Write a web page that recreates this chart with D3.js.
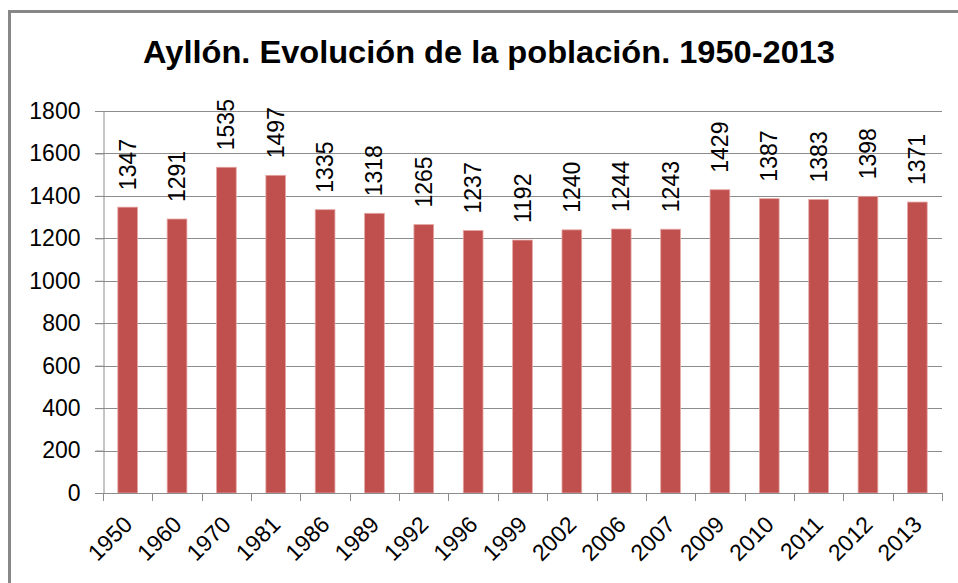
<!DOCTYPE html>
<html>
<head>
<meta charset="utf-8">
<script src="https://cdn.jsdelivr.net/npm/d3@7"></script>
<style>
  body { margin: 0; background: #fff; }
  text { font-family: "Liberation Sans", Arial, sans-serif; fill: #000; }
</style>
</head>
<body>
<script>
const w = 958
const h = 583

const years = ['1950', '1960', '1970', '1981', '1986', '1989', '1992', '1996', '1999',
    '2002', '2006', '2007', '2009', '2010', '2011', '2012', '2013']
const population = [1347, 1291, 1535, 1497, 1335, 1318, 1265, 1237, 1192,
    1240, 1244, 1243, 1429, 1387, 1383, 1398, 1371]
const yTicks = [0, 200, 400, 600, 800, 1000, 1200, 1400, 1600, 1800]
const title = 'Ayllón. Evolución de la población. 1950-2013'

const plot = { left: 103, right: 942, top: 111, bottom: 493 }

const svg = d3.select('body').append('svg')
    .attr('width', w)
    .attr('height', h)

// outer chart border (runs off the right and bottom of the picture)
svg.append('rect')
    .attr('x', 9.5).attr('y', 11.5)
    .attr('width', w + 20).attr('height', h + 20)
    .attr('fill', 'none')
    .attr('stroke', '#878787')
    .attr('stroke-width', 3)

svg.append('text')
    .attr('x', 489).attr('y', 63)
    .attr('text-anchor', 'middle')
    .attr('font-size', 31)
    .attr('font-weight', 'bold')
    .attr('textLength', 692)
    .attr('lengthAdjust', 'spacingAndGlyphs')
    .text(title)

const xScale = d3.scaleBand()
    .domain(years)
    .range([plot.left, plot.right])
    .paddingInner(0.6)
    .paddingOuter(0.3)

const yScale = d3.scaleLinear()
    .domain([0, 1800])
    .range([plot.bottom, plot.top])

// gridlines
svg.append('g')
    .selectAll('line')
    .data(yTicks)
    .enter()
    .append('line')
    .attr('x1', plot.left - 8)
    .attr('x2', plot.right)
    .attr('y1', d => Math.round(yScale(d)) + 0.5)
    .attr('y2', d => Math.round(yScale(d)) + 0.5)
    .attr('stroke', '#8c8c8c')
    .attr('stroke-width', 1)

// y axis
const yAxis = svg.append('g')
    .attr('transform', `translate(${plot.left + 0.5},0)`)
    .call(d3.axisLeft(yScale).tickValues(yTicks).tickFormat(d3.format('d'))
        .tickSize(8).tickPadding(15))
yAxis.select('.domain').attr('stroke', '#8c8c8c')
yAxis.selectAll('.tick line').attr('stroke', '#8c8c8c')
yAxis.selectAll('.tick text').attr('font-size', 23).attr('fill', '#000')
    .attr('font-family', '"Liberation Sans", Arial, sans-serif')

// bars
svg.append('g')
    .selectAll('rect')
    .data(population)
    .enter()
    .append('rect')
    .attr('x', (d, i) => xScale(years[i]))
    .attr('y', d => yScale(d))
    .attr('width', xScale.bandwidth())
    .attr('height', d => yScale(0) - yScale(d))
    .attr('fill', '#c0504d')
    .attr('stroke', '#e6a8a6')
    .attr('stroke-width', 0.8)

// x axis with ticks between categories
const xAxisG = svg.append('g')
xAxisG.append('line')
    .attr('x1', plot.left).attr('x2', plot.right)
    .attr('y1', plot.bottom + 0.5).attr('y2', plot.bottom + 0.5)
    .attr('stroke', '#8c8c8c')
xAxisG.selectAll('line.tk')
    .data(d3.range(years.length + 1))
    .enter()
    .append('line')
    .attr('class', 'tk')
    .attr('x1', i => Math.round(plot.left + i * (plot.right - plot.left) / years.length) + 0.5)
    .attr('x2', i => Math.round(plot.left + i * (plot.right - plot.left) / years.length) + 0.5)
    .attr('y1', plot.bottom)
    .attr('y2', plot.bottom + 8)
    .attr('stroke', '#8c8c8c')

xAxisG.selectAll('text')
    .data(years)
    .enter()
    .append('text')
    .attr('font-size', 23)
    .attr('text-anchor', 'end')
    .attr('transform', d => {
        const cx = xScale(d) + xScale.bandwidth() / 2 + 6
        return `translate(${cx},${plot.bottom + 33}) rotate(-45)`
    })
    .text(d => d)

// value labels, rotated
svg.append('g')
    .selectAll('text')
    .data(population)
    .enter()
    .append('text')
    .attr('font-size', 23)
    .attr('text-anchor', 'start')
    .attr('transform', (d, i) => {
        const cx = xScale(years[i]) + xScale.bandwidth() / 2 + 8
        return `translate(${cx},${yScale(d) - 17}) rotate(-90)`
    })
    .text(d => d)
</script>
</body>
</html>
